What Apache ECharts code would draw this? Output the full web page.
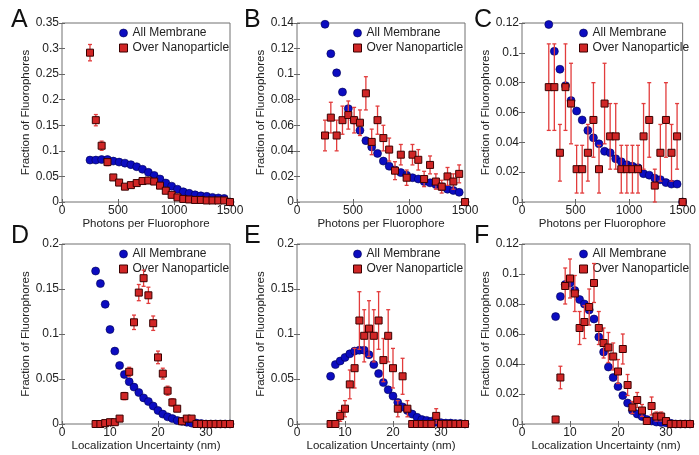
<!DOCTYPE html>
<html>
<head>
<meta charset="utf-8">
<script src="https://cdn.jsdelivr.net/npm/echarts@6/dist/echarts.min.js"></script>
<style>
  html, body { margin: 0; padding: 0; background: #fff; }
  #chart { width: 699px; height: 455px; }
</style>
</head>
<body>
<div id="chart"></div>
<script>
/* ===== data ===== */
const photonBins = [250, 302, 354, 406, 458, 510, 562, 615, 667, 719, 771, 823, 875, 927, 979, 1031, 1083, 1135, 1188, 1240, 1292, 1344, 1396, 1448, 1500];
const uncBins = [7, 8, 9, 10, 11, 12, 13, 14, 15, 16, 17, 18, 19, 20, 21, 22, 23, 24, 25, 26, 27, 28, 29, 30, 31, 32, 33, 34, 35];

// A - photons, first condition
const memA = [0.082, 0.082, 0.083, 0.083, 0.08, 0.078, 0.076, 0.073, 0.069, 0.064, 0.058, 0.052, 0.045, 0.037, 0.031, 0.025, 0.02, 0.017, 0.014, 0.012, 0.011, 0.009, 0.008, 0.007, 0];
const npA  = [0.292, 0.16, 0.11, 0.078, 0.048, 0.038, 0.03, 0.033, 0.037, 0.041, 0.042, 0.04, 0.032, 0.022, 0.014, 0.009, 0.006, 0.005, 0.004, 0.004, 0.003, 0.003, 0.003, 0.003, 0];
const errA = [0.016, 0.011, 0.009, 0.007, 0.005, 0.005, 0.004, 0.004, 0.005, 0.005, 0.005, 0.005, 0.004, 0.004, 0.003, 0.002, 0.002, 0.002, 0.002, 0.002, 0.002, 0.002, 0.002, 0.002, 0];

// B
const memB = [0.139, 0.116, 0.101, 0.086, 0.073, 0.064, 0.056, 0.048, 0.043, 0.038, 0.032, 0.028, 0.025, 0.023, 0.021, 0.019, 0.018, 0.016, 0.015, 0.0136, 0.012, 0.01, 0.009, 0.0076, 0];
const npB  = [0.052, 0.066, 0.052, 0.064, 0.068, 0.064, 0.062, 0.085, 0.047, 0.064, 0.05, 0.041, 0.0245, 0.037, 0.019, 0.037, 0.033, 0.018, 0.029, 0.016, 0.012, 0.02, 0.016, 0.022, 0];
const errB = [0.012, 0.012, 0.012, 0.011, 0.011, 0.01, 0.01, 0.013, 0.01, 0.011, 0.01, 0.009, 0.007, 0.008, 0.006, 0.008, 0.008, 0.006, 0.007, 0.006, 0.005, 0.007, 0.006, 0.007, 0];

// C
const memC = [0.119, 0.101, 0.089, 0.078, 0.068, 0.061, 0.055, 0.048, 0.043, 0.039, 0.034, 0.033, 0.029, 0.027, 0.025, 0.024, 0.023, 0.019, 0.018, 0.016, 0.015, 0.013, 0.012, 0.012, 0];
const npC  = [0.077, 0.077, 0.033, 0.077, 0.066, 0.022, 0.022, 0.033, 0.055, 0.022, 0.066, 0.044, 0.044, 0.022, 0.022, 0.022, 0.022, 0.044, 0.055, 0.011, 0.033, 0.055, 0.033, 0.044, 0];
const errC = [0.029, 0.029, 0.019, 0.029, 0.027, 0.016, 0.016, 0.019, 0.025, 0.016, 0.027, 0.022, 0.022, 0.016, 0.016, 0.016, 0.016, 0.022, 0.025, 0.011, 0.019, 0.025, 0.019, 0.022, 0];

// D - localization uncertainty
const memD = [0.17, 0.156, 0.133, 0.105, 0.081, 0.065, 0.055, 0.047, 0.041, 0.035, 0.029, 0.025, 0.02, 0.015, 0.011, 0.008, 0.006, 0.004, 0.003, 0.002, 0.001, 0.001, 0.0005, 0, 0, 0, 0, 0, 0];
const npD  = [0, 0, 0.001, 0.002, 0.002, 0.006, 0.031, 0.058, 0.113, 0.146, 0.162, 0.143, 0.112, 0.074, 0.056, 0.037, 0.024, 0.017, 0.003, 0.006, 0.006, 0, 0, 0, 0, 0, 0, 0, 0];
const errD = [0, 0, 0.001, 0.001, 0.001, 0.002, 0.004, 0.005, 0.008, 0.009, 0.009, 0.009, 0.008, 0.007, 0.006, 0.005, 0.004, 0.003, 0.001, 0.002, 0.002, 0, 0, 0, 0, 0, 0, 0, 0];

// E
const memE = [0.053, 0.066, 0.07, 0.074, 0.078, 0.081, 0.082, 0.082, 0.077, 0.066, 0.056, 0.046, 0.038, 0.031, 0.024, 0.019, 0.015, 0.011, 0.0075, 0.005, 0.004, 0.003, 0.002, 0.0015, 0.001, 0.001, 0.0005, 0.0005, 0];
const npE  = [0, 0, 0.009, 0.017, 0.044, 0.062, 0.115, 0.098, 0.106, 0.098, 0.115, 0.071, 0.098, 0.062, 0.017, 0.053, 0.017, 0, 0, 0, 0, 0, 0.009, 0, 0, 0, 0, 0, 0];
const errE = [0, 0, 0.006, 0.009, 0.016, 0.022, 0.032, 0.029, 0.031, 0.029, 0.032, 0.024, 0.029, 0.022, 0.009, 0.02, 0.009, 0, 0, 0, 0, 0, 0.008, 0, 0, 0, 0, 0, 0];

// F
const memF = [0.0716, 0.085, 0.093, 0.094, 0.089, 0.083, 0.08, 0.076, 0.07, 0.058, 0.048, 0.038, 0.031, 0.025, 0.019, 0.014, 0.009, 0.0067, 0.005, 0.003, 0.002, 0.0013, 0.001, 0.0008, 0.0005, 0, 0, 0, 0];
const npF  = [0.003, 0.031, 0.092, 0.097, 0.087, 0.064, 0.068, 0.078, 0.094, 0.064, 0.054, 0.051, 0.045, 0.035, 0.05, 0.026, 0.011, 0.016, 0.009, 0.002, 0.012, 0.005, 0.005, 0.002, 0, 0, 0, 0, 0];
const errF = [0.002, 0.0075, 0.012, 0.013, 0.012, 0.011, 0.011, 0.012, 0.013, 0.011, 0.01, 0.01, 0.009, 0.008, 0.01, 0.007, 0.004, 0.005, 0.004, 0.002, 0.006, 0.003, 0.003, 0.002, 0, 0, 0, 0, 0];

const SERIES_MEM = "All Membrane";
const SERIES_NP = "Over Nanoparticle";
const X_TITLE_TOP = "Photons per Fluorophore";
const X_TITLE_BOTTOM = "Localization Uncertainty (nm)";
const Y_TITLE = "Fraction of Fluorophores";

/* ===== layout ===== */
const FONT = "Liberation Sans, Arial, sans-serif";
const BLUE = { color: "#0c0cc0", borderColor: "#000050", borderWidth: 0.6, opacity: 1 };
const RED = { color: "#d02626", borderColor: "#3a0000", borderWidth: 1, opacity: 1 };
const cols = [62, 297, 522];
const panels = [
    { tag: "A", x: photonBins, mem: memA, np: npA, err: errA, col: 0, row: 0, xmax: 1500, xint: 500, ymax: 0.35, yint: 0.05 },
    { tag: "B", x: photonBins, mem: memB, np: npB, err: errB, col: 1, row: 0, xmax: 1500, xint: 500, ymax: 0.14, yint: 0.02 },
    { tag: "C", x: photonBins, mem: memC, np: npC, err: errC, col: 2, row: 0, xmax: 1500, xint: 500, ymax: 0.12, yint: 0.02 },
    { tag: "D", x: uncBins, mem: memD, np: npD, err: errD, col: 0, row: 1, xmax: 35, xint: 10, ymax: 0.2, yint: 0.05 },
    { tag: "E", x: uncBins, mem: memE, np: npE, err: errE, col: 1, row: 1, xmax: 35, xint: 10, ymax: 0.2, yint: 0.05 },
    { tag: "F", x: uncBins, mem: memF, np: npF, err: errF, col: 2, row: 1, xmax: 35, xint: 10, ymax: 0.12, yint: 0.02 },
];
const rows = [{ top: 23, h: 179 }, { top: 244, h: 180 }];
const W = 168;

function renderErr(params, api) {
    const x = api.value(0), lo = api.value(1), hi = api.value(2);
    if (!(hi > lo)) return;
    const a = api.coord([x, lo]), b = api.coord([x, hi]);
    const st = { stroke: "#e23c3c", lineWidth: 1.3 };
    const c = 2;
    return {
        type: "group",
        children: [
            { type: "line", shape: { x1: a[0], y1: a[1], x2: b[0], y2: b[1] }, style: st },
            { type: "line", shape: { x1: a[0] - c, y1: a[1], x2: a[0] + c, y2: a[1] }, style: st },
            { type: "line", shape: { x1: b[0] - c, y1: b[1], x2: b[0] + c, y2: b[1] }, style: st },
        ],
    };
}

const grid = [], xAxis = [], yAxis = [], series = [], legend = [], graphic = [];
const tickStyle = { show: true, inside: true, length: 3, lineStyle: { color: "#666" } };

panels.forEach((p, i) => {
    const r = rows[p.row];
    const left = cols[p.col];
    grid.push({ left: left, top: r.top, width: W, height: r.h, show: true, borderColor: "#707070", borderWidth: 1, backgroundColor: "#fff" });

    const isBottom = p.row === 1;
    const xBase = { type: "value", gridIndex: i, min: 0, max: p.xmax, interval: p.xint, splitLine: { show: false }, axisLine: { show: false }, axisTick: tickStyle };
    xAxis.push(Object.assign({}, xBase, {
        position: "bottom",
        name: isBottom ? X_TITLE_BOTTOM : X_TITLE_TOP,
        nameLocation: "middle", nameGap: isBottom ? 15 : 14,
        nameTextStyle: { fontFamily: FONT, fontSize: 11.5, color: "#222" },
        axisLabel: { margin: 3, fontFamily: FONT, fontSize: 12, color: "#222", showMaxLabel: !isBottom, formatter: v => String(v) },
    }));
    xAxis.push(Object.assign({}, xBase, { position: "top", axisLabel: { show: false } }));

    const yBase = { type: "value", gridIndex: i, min: 0, max: p.ymax, interval: p.yint, splitLine: { show: false }, axisLine: { show: false }, axisTick: tickStyle };
    yAxis.push(Object.assign({}, yBase, {
        position: "left",
        name: Y_TITLE, nameLocation: "middle", nameGap: 26,
        nameTextStyle: { fontFamily: FONT, fontSize: 11.5, color: "#222" },
        axisLabel: { margin: 3, fontFamily: FONT, fontSize: 12, color: "#222" },
    }));
    yAxis.push(Object.assign({}, yBase, { position: "right", axisLabel: { show: false } }));

    const xi = i * 2, yi = i * 2;
    series.push({
        name: SERIES_MEM, type: "scatter", xAxisIndex: xi, yAxisIndex: yi, clip: false, z: 3,
        symbol: "circle", symbolSize: 8, itemStyle: BLUE,
        data: p.x.map((v, k) => [v, p.mem[k]]),
    });
    series.push({
        name: SERIES_NP, type: "custom", xAxisIndex: xi, yAxisIndex: yi, z: 4, clip: false,
        itemStyle: { color: RED.color },
        renderItem: renderErr, encode: { x: 0, y: [1, 2] },
        data: p.x.map((v, k) => [v, p.np[k] - p.err[k], p.np[k] + p.err[k]]),
    });
    series.push({
        name: SERIES_NP, type: "scatter", xAxisIndex: xi, yAxisIndex: yi, clip: false, z: 5,
        symbol: "rect", symbolSize: 7, itemStyle: RED,
        data: p.x.map((v, k) => [v, p.np[k]]),
    });

    legend.push({
        orient: "vertical", left: [119, 353, 579][p.col], top: isBottom ? 248 : 27,
        padding: 0, itemGap: 3, itemWidth: 8, itemHeight: 8, z: 1, selectedMode: false,
        textStyle: { fontFamily: FONT, fontSize: 12, color: "#222", lineHeight: 12 },
        data: [
            { name: SERIES_MEM, icon: "circle", itemStyle: BLUE },
            { name: SERIES_NP, icon: "rect", itemStyle: RED },
        ],
    });

    graphic.push({
        type: "text", left: [11, 244, 474][p.col], top: isBottom ? 224 : 8,
        style: { text: p.tag, font: "25px " + FONT, fill: "#111" },
    });
});

const chart = echarts.init(document.getElementById("chart"), null, { renderer: "canvas" });
chart.setOption({
    backgroundColor: "#fff",
    animation: false,
    grid, xAxis, yAxis, series, legend, graphic,
});
</script>
</body>
</html>
